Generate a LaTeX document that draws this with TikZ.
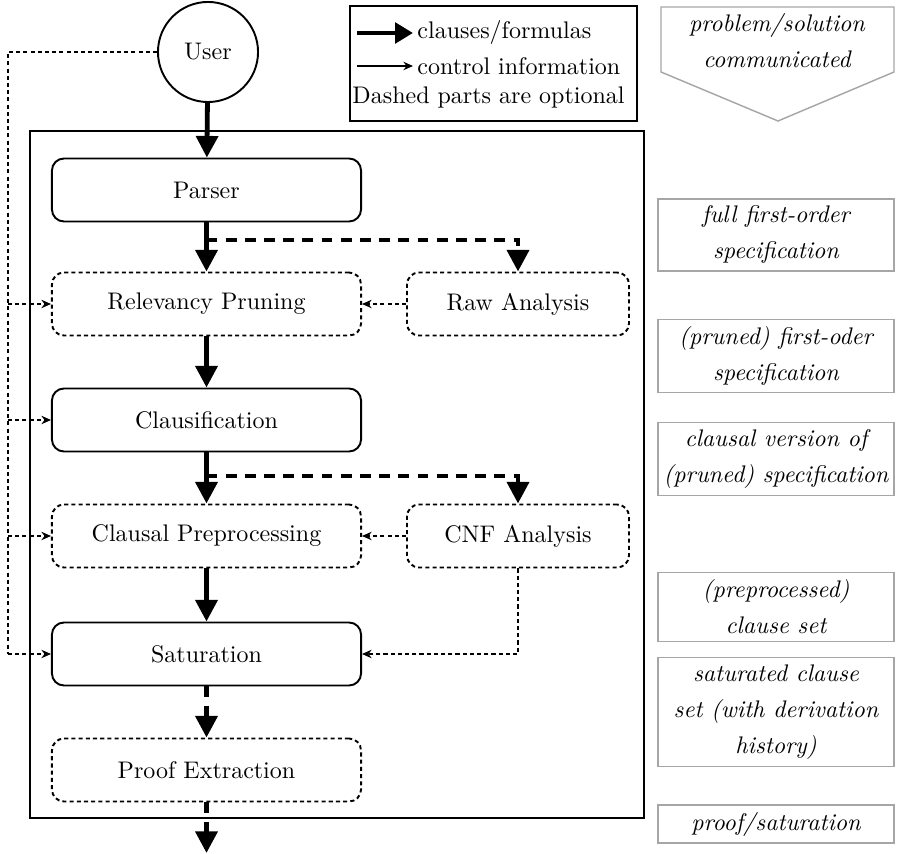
\documentclass[tikz,border=0pt]{standalone}
\usetikzlibrary{arrows.meta}
\tikzset{
  flow/.style={line width=2pt, -{Triangle[length=9pt,width=9pt]}},
  flowdash/.style={flow, dash pattern=on 4.5pt off 3.5pt},
  ctrl/.style={line width=0.6pt, dash pattern=on 1.7pt off 1.3pt, -{Stealth[length=4pt,width=3.5pt]}},
  ctrlline/.style={line width=0.6pt, dash pattern=on 1.7pt off 1.3pt},
  mainbox/.style={draw, line width=0.8pt, rounded corners=5pt, minimum width=128.8pt, minimum height=26.25pt, inner sep=0pt},
  optbox/.style={mainbox, dash pattern=on 1.7pt off 1.3pt},
  sidebox/.style={optbox, minimum width=92.5pt},
  legtext/.style={anchor=west, inner sep=0pt},
  annot/.style={draw=black!35, line width=0.6pt, font=\itshape\fontsize{10}{15}\selectfont, align=center, minimum width=98.3pt, inner xsep=1pt, inner ysep=3pt},
}
\begin{document}
\begin{tikzpicture}[x=0.4167pt, y=-0.4167pt]
\useasboundingbox (0,0) rectangle (898,854);

% outer frame
\draw[line width=0.8pt] (30,131) rectangle (644,818);

% user
\node[draw, circle, line width=0.8pt, minimum size=41.7pt, inner sep=0pt] (user) at (208,52) {User};

% legend
\node[draw, line width=0.8pt, minimum width=119.6pt, minimum height=47.9pt, inner sep=0pt] (legend) at (493.5,63.5) {};
\coordinate (la1) at (357,33);
\coordinate (la2) at (413,33);
\coordinate (lb1) at (357,66);
\coordinate (lb2) at (413,66);
\draw[line width=2pt, -{Triangle[length=7.5pt,width=8.5pt]}] (la1) -- (la2);
\draw[line width=0.6pt, -{Stealth[length=4pt,width=3.5pt]}] (lb1) -- (lb2);
\node[legtext] (lt1) at (417,33) {clauses/formulas};
\node[legtext] (lt2) at (417,66) {control information};
\node[legtext] (lt3) at (352,98) {Dashed parts are optional};

% main chain
\node[mainbox] (parser) at (206.5,190) {Parser};
\node[optbox] (relev) at (206.5,304) {Relevancy Pruning};
\node[sidebox] (raw) at (518,304) {Raw Analysis};
\node[mainbox] (claus) at (206.5,420) {Clausification};
\node[optbox] (clpre) at (206.5,536) {Clausal Preprocessing};
\node[sidebox] (cnf) at (518,536) {CNF Analysis};
\node[mainbox] (sat) at (206.5,654) {Saturation};
\node[optbox] (proof) at (206.5,770) {Proof Extraction};

\coordinate (b1) at (206.5,240);
\coordinate (b2) at (206.5,476);
\coordinate (out) at (206.5,853);

\draw[flow] (user) -- (parser);
\draw[flow] (parser) -- (relev);
\draw[flowdash] (b1) -| (raw.north);
\draw[flow] (relev) -- (claus);
\draw[flow] (claus) -- (clpre);
\draw[flowdash] (b2) -| (cnf.north);
\draw[flow] (clpre) -- (sat);
\draw[flowdash] (sat) -- (proof);
\draw[flowdash] (proof) -- (out);

% control lines
\coordinate (l0) at (8,52);
\coordinate (l1) at (8,304);
\coordinate (l2) at (8,420);
\coordinate (l3) at (8,536);
\coordinate (l4) at (8,654);
\draw[ctrlline] (user.west) -- (l0) -- (l4);
\draw[ctrl] (l1) -- (relev.west);
\draw[ctrl] (l2) -- (claus.west);
\draw[ctrl] (l3) -- (clpre.west);
\draw[ctrl] (l4) -- (sat.west);
\draw[ctrl] (raw) -- (relev);
\draw[ctrl] (cnf) -- (clpre);
\draw[ctrl] (cnf.south) |- (sat.east);

% annotations
\draw[draw=black!35, line width=0.6pt] (661,7) -- (894,7) -- (894,72) -- (778,121) -- (661,72) -- cycle;
\node[font=\itshape\fontsize{10}{15}\selectfont, align=center] (a1) at (777,41) {problem/solution\\communicated};
\node[annot] (a2) at (776,235) {full first-order\\specification};
\node[annot] (a3) at (776,356) {(pruned) first-oder\\specification};
\node[annot] (a4) at (776,459) {clausal version of\\(pruned) specification};
\node[annot] (a5) at (776,607) {(preprocessed)\\clause set};
\node[annot] (a6) at (776,712) {saturated clause\\set (with derivation\\history)};
\node[annot] (a7) at (776,824) {proof/saturation};
\end{tikzpicture}
\end{document}
